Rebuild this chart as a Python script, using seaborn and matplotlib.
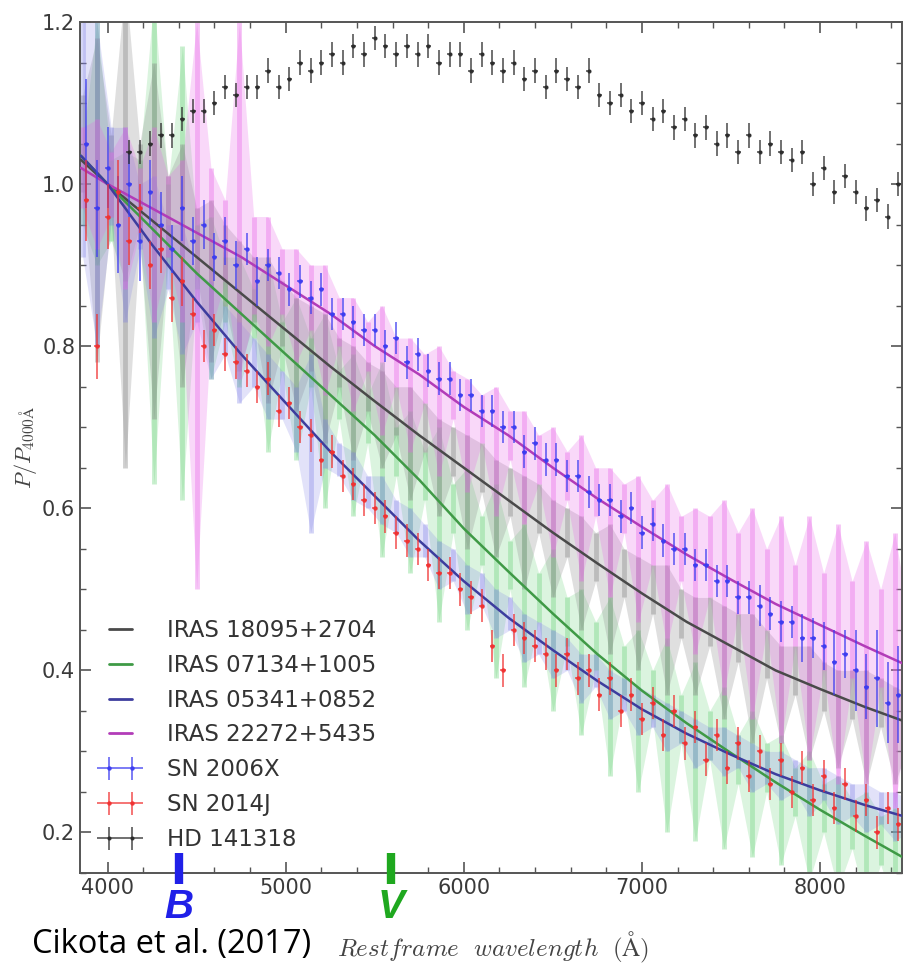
import matplotlib
matplotlib.use("Agg")
import matplotlib.pyplot as plt
import matplotlib.transforms as mtransforms
from matplotlib.lines import Line2D
from matplotlib.ticker import MultipleLocator
import numpy as np
import pandas as pd
import seaborn as sns

# ---------------- data ----------------
# Serkowski-type fit curves of the IRAS objects
fit_wave = [3850, 4000, 4250, 4500, 4750, 5000, 5250, 5500, 5750, 6000,
            6250, 6500, 6750, 7000, 7250, 7500, 7750, 8000, 8250, 8500]
fit_18095 = [1.03, 1.0, .955, .91, .865, .82, .775, .732, .69, .65,
             .61, .57, .532, .495, .46, .43, .40, .377, .355, .335]
fit_07134 = [1.035, 1.0, .945, .89, .84, .79, .74, .69, .635, .575,
             .522, .47, .42, .375, .335, .298, .262, .228, .196, .165]
fit_05341 = [1.035, 1.0, .925, .855, .79, .73, .67, .615, .56, .51,
             .465, .425, .387, .352, .322, .296, .272, .252, .234, .218]
fit_22272 = [1.02, 1.0, .97, .94, .91, .875, .84, .80, .765, .725,
             .69, .65, .612, .577, .543, .512, .482, .456, .43, .405]

# IRAS spectropolarimetry (value and 1-sigma error)
iras_wave = [3860, 3940, 4020, 4100, 4180, 4260, 4340, 4420, 4500, 4580,
             4660, 4740, 4820, 4900, 4980, 5060, 5140, 5220, 5300, 5380,
             5460, 5540, 5620, 5700, 5780, 5860, 5940, 6020, 6100, 6180,
             6260, 6340, 6420, 6500, 6580, 6660, 6740, 6820, 6900, 6980,
             7060, 7140, 7220, 7300, 7380, 7460, 7540, 7620, 7700, 7780,
             7860, 7940, 8020, 8100, 8180, 8260, 8340, 8420, 8500]
iras18095_pol = [1.05, 0.98, 1.01, 0.95, 0.99, 0.93, 0.96, 0.90, 0.93, 0.88,
                 0.90, 0.85, 0.87, 0.82, 0.84, 0.79, 0.81, 0.76, 0.78, 0.73,
                 0.75, 0.71, 0.72, 0.68, 0.70, 0.65, 0.67, 0.62, 0.65, 0.60,
                 0.62, 0.57, 0.60, 0.55, 0.57, 0.52, 0.54, 0.50, 0.52, 0.47,
                 0.50, 0.45, 0.47, 0.43, 0.46, 0.41, 0.44, 0.39, 0.42, 0.37,
                 0.40, 0.36, 0.38, 0.34, 0.37, 0.33, 0.36, 0.32, 0.34]
iras18095_err = [0.06, 0.20, 0.05, 0.30, 0.06, 0.22, 0.05, 0.15, 0.04, 0.10,
                 0.05, 0.08, 0.04, 0.09, 0.04, 0.07, 0.04, 0.08, 0.03, 0.07,
                 0.03, 0.06, 0.03, 0.07, 0.03, 0.06, 0.03, 0.07, 0.03, 0.06,
                 0.03, 0.07, 0.03, 0.06, 0.03, 0.07, 0.03, 0.08, 0.03, 0.07,
                 0.03, 0.08, 0.03, 0.06, 0.03, 0.07, 0.03, 0.08, 0.03, 0.06,
                 0.03, 0.07, 0.03, 0.06, 0.03, 0.07, 0.03, 0.06, 0.03]
iras07134_pol = [1.00, 1.05, 0.98, 0.96, 0.99, 0.93, 0.95, 0.89, 0.91, 0.86,
                 0.87, 0.83, 0.84, 0.79, 0.80, 0.76, 0.78, 0.72, 0.74, 0.69,
                 0.71, 0.66, 0.67, 0.62, 0.64, 0.58, 0.60, 0.55, 0.56, 0.51,
                 0.53, 0.48, 0.49, 0.45, 0.46, 0.41, 0.43, 0.38, 0.40, 0.35,
                 0.37, 0.32, 0.34, 0.30, 0.32, 0.28, 0.29, 0.26, 0.28, 0.24,
                 0.25, 0.22, 0.23, 0.20, 0.21, 0.18, 0.19, 0.17, 0.17]
iras07134_err = [0.05, 0.15, 0.05, 0.08, 0.04, 0.30, 0.05, 0.28, 0.04, 0.10,
                 0.04, 0.08, 0.03, 0.12, 0.03, 0.10, 0.03, 0.12, 0.03, 0.10,
                 0.03, 0.12, 0.03, 0.10, 0.03, 0.12, 0.03, 0.10, 0.03, 0.12,
                 0.03, 0.10, 0.03, 0.10, 0.03, 0.09, 0.03, 0.11, 0.03, 0.10,
                 0.03, 0.12, 0.03, 0.11, 0.03, 0.10, 0.03, 0.09, 0.03, 0.08,
                 0.03, 0.08, 0.03, 0.07, 0.03, 0.07, 0.03, 0.06, 0.03]
iras05341_pol = [1.06, 1.00, 1.01, 0.95, 0.96, 0.91, 0.91, 0.87, 0.86, 0.82,
                 0.82, 0.78, 0.78, 0.75, 0.74, 0.71, 0.68, 0.68, 0.66, 0.64,
                 0.62, 0.61, 0.59, 0.57, 0.56, 0.53, 0.53, 0.50, 0.50, 0.47,
                 0.47, 0.44, 0.44, 0.42, 0.42, 0.39, 0.40, 0.37, 0.37, 0.35,
                 0.35, 0.33, 0.33, 0.31, 0.31, 0.30, 0.30, 0.28, 0.28, 0.27,
                 0.27, 0.25, 0.26, 0.24, 0.24, 0.23, 0.23, 0.22, 0.22]
iras05341_err = [0.15, 0.20, 0.06, 0.12, 0.04, 0.10, 0.04, 0.08, 0.03, 0.06,
                 0.03, 0.05, 0.03, 0.04, 0.03, 0.04, 0.11, 0.03, 0.02, 0.03,
                 0.02, 0.03, 0.02, 0.03, 0.02, 0.03, 0.02, 0.03, 0.02, 0.03,
                 0.02, 0.03, 0.02, 0.03, 0.02, 0.03, 0.02, 0.03, 0.02, 0.03,
                 0.02, 0.03, 0.02, 0.03, 0.02, 0.03, 0.02, 0.03, 0.02, 0.03,
                 0.02, 0.03, 0.02, 0.03, 0.02, 0.03, 0.02, 0.03, 0.02]
iras22272_pol = [1.02, 1.00, 1.00, 0.97, 0.98, 0.95, 0.96, 0.93, 0.85, 0.92,
                 0.93, 0.98, 0.90, 0.88, 0.88, 0.85, 0.86, 0.82, 0.83, 0.79,
                 0.80, 0.77, 0.78, 0.74, 0.76, 0.72, 0.74, 0.69, 0.71, 0.67,
                 0.69, 0.65, 0.66, 0.62, 0.64, 0.60, 0.62, 0.57, 0.60, 0.55,
                 0.57, 0.53, 0.55, 0.51, 0.54, 0.49, 0.52, 0.47, 0.50, 0.45,
                 0.48, 0.44, 0.46, 0.42, 0.45, 0.41, 0.44, 0.40, 0.41]
iras22272_err = [0.05, 0.08, 0.04, 0.10, 0.04, 0.12, 0.05, 0.10, 0.35, 0.10,
                 0.05, 0.22, 0.06, 0.08, 0.04, 0.07, 0.04, 0.08, 0.03, 0.07,
                 0.03, 0.08, 0.03, 0.07, 0.03, 0.08, 0.03, 0.07, 0.03, 0.08,
                 0.03, 0.07, 0.03, 0.08, 0.03, 0.09, 0.03, 0.08, 0.03, 0.09,
                 0.04, 0.10, 0.04, 0.09, 0.05, 0.12, 0.05, 0.13, 0.05, 0.14,
                 0.05, 0.15, 0.06, 0.16, 0.06, 0.15, 0.06, 0.17, 0.05]

# Supernovae (binned)
sn_wave = [3880, 3940, 4000, 4060, 4120, 4180, 4240, 4300, 4360, 4420,
           4480, 4540, 4600, 4660, 4720, 4780, 4840, 4900, 4960, 5020,
           5080, 5140, 5200, 5260, 5320, 5380, 5440, 5500, 5560, 5620,
           5680, 5740, 5800, 5860, 5920, 5980, 6040, 6100, 6160, 6220,
           6280, 6340, 6400, 6460, 6520, 6580, 6640, 6700, 6760, 6820,
           6880, 6940, 7000, 7060, 7120, 7180, 7240, 7300, 7360, 7420,
           7480, 7540, 7600, 7660, 7720, 7780, 7840, 7900, 7960, 8020,
           8080, 8140, 8200, 8260, 8320, 8380, 8440, 8500]
sn_bin_halfwidth = 15
sn2006x_pol = [1.05, 0.97, 1.02, 0.95, 1.00, 0.93, 0.99, 0.95, 0.92, 0.97,
               0.93, 0.95, 0.91, 0.93, 0.90, 0.92, 0.88, 0.90, 0.89, 0.87,
               0.88, 0.86, 0.87, 0.84, 0.84, 0.83, 0.82, 0.82, 0.80, 0.81,
               0.78, 0.79, 0.77, 0.76, 0.76, 0.74, 0.74, 0.72, 0.72, 0.70,
               0.70, 0.67, 0.68, 0.66, 0.66, 0.64, 0.64, 0.62, 0.61, 0.61,
               0.59, 0.60, 0.57, 0.58, 0.56, 0.55, 0.55, 0.53, 0.53, 0.51,
               0.51, 0.49, 0.49, 0.48, 0.47, 0.46, 0.46, 0.44, 0.44, 0.43,
               0.41, 0.42, 0.40, 0.38, 0.39, 0.36, 0.37, 0.35]
sn2006x_err = [0.08, 0.06, 0.05, 0.06, 0.04, 0.05, 0.04, 0.04, 0.03, 0.04,
               0.03, 0.03, 0.03, 0.03, 0.03, 0.02, 0.03, 0.02, 0.02, 0.02,
               0.02, 0.02, 0.02, 0.02, 0.02, 0.02, 0.02, 0.02, 0.02, 0.02,
               0.02, 0.02, 0.02, 0.02, 0.02, 0.02, 0.02, 0.02, 0.02, 0.02,
               0.02, 0.02, 0.02, 0.02, 0.02, 0.02, 0.02, 0.02, 0.02, 0.02,
               0.02, 0.02, 0.02, 0.02, 0.02, 0.02, 0.02, 0.02, 0.02, 0.02,
               0.02, 0.02, 0.02, 0.025, 0.02, 0.025, 0.02, 0.03, 0.025, 0.03,
               0.04, 0.03, 0.05, 0.04, 0.06, 0.05, 0.06, 0.05]
sn2014j_pol = [0.98, 0.80, 0.96, 0.99, 0.93, 0.97, 0.90, 0.92, 0.86, 0.88,
               0.84, 0.80, 0.82, 0.79, 0.78, 0.77, 0.75, 0.76, 0.72, 0.73,
               0.70, 0.69, 0.66, 0.67, 0.64, 0.63, 0.61, 0.60, 0.59, 0.57,
               0.56, 0.55, 0.53, 0.52, 0.52, 0.50, 0.49, 0.48, 0.43, 0.40,
               0.45, 0.44, 0.43, 0.42, 0.40, 0.42, 0.39, 0.40, 0.37, 0.39,
               0.35, 0.37, 0.34, 0.36, 0.32, 0.35, 0.31, 0.33, 0.29, 0.32,
               0.28, 0.31, 0.27, 0.30, 0.26, 0.29, 0.25, 0.28, 0.24, 0.27,
               0.23, 0.26, 0.22, 0.24, 0.20, 0.23, 0.21, 0.22]
sn2014j_err = [0.05, 0.04, 0.04, 0.04, 0.03, 0.03, 0.03, 0.03, 0.03, 0.03,
               0.02, 0.02, 0.02, 0.02, 0.02, 0.02, 0.02, 0.02, 0.02, 0.02,
               0.02, 0.02, 0.02, 0.02, 0.02, 0.02, 0.02, 0.02, 0.02, 0.02,
               0.02, 0.02, 0.02, 0.02, 0.02, 0.02, 0.02, 0.02, 0.02, 0.02,
               0.02, 0.02, 0.02, 0.02, 0.02, 0.02, 0.02, 0.02, 0.02, 0.02,
               0.02, 0.02, 0.02, 0.02, 0.02, 0.02, 0.02, 0.02, 0.02, 0.02,
               0.02, 0.02, 0.02, 0.02, 0.02, 0.02, 0.02, 0.02, 0.02, 0.02,
               0.02, 0.02, 0.02, 0.02, 0.02, 0.02, 0.02, 0.02]

# Galactic star HD 141318
hd_wave = [4120, 4180, 4240, 4300, 4360, 4420, 4480, 4540, 4600, 4660,
           4720, 4780, 4840, 4900, 4960, 5020, 5080, 5140, 5200, 5260,
           5320, 5380, 5440, 5500, 5560, 5620, 5680, 5740, 5800, 5860,
           5920, 5980, 6040, 6100, 6160, 6220, 6280, 6340, 6400, 6460,
           6520, 6580, 6640, 6700, 6760, 6820, 6880, 6940, 7000, 7060,
           7120, 7180, 7240, 7300, 7360, 7420, 7480, 7540, 7600, 7660,
           7720, 7780, 7840, 7900, 7960, 8020, 8080, 8140, 8200, 8260,
           8320, 8380, 8440, 8500]
hd141318_pol = [1.04, 1.04, 1.05, 1.06, 1.06, 1.08, 1.09, 1.09, 1.10, 1.12,
                1.11, 1.12, 1.12, 1.14, 1.12, 1.13, 1.15, 1.14, 1.15, 1.16,
                1.15, 1.17, 1.16, 1.18, 1.17, 1.16, 1.17, 1.16, 1.17, 1.15,
                1.16, 1.16, 1.14, 1.16, 1.15, 1.14, 1.15, 1.13, 1.14, 1.12,
                1.14, 1.13, 1.12, 1.14, 1.11, 1.10, 1.11, 1.09, 1.10, 1.08,
                1.09, 1.07, 1.08, 1.06, 1.07, 1.05, 1.06, 1.04, 1.06, 1.04,
                1.05, 1.04, 1.03, 1.04, 1.00, 1.02, 0.99, 1.01, 0.99, 0.97,
                0.98, 0.96, 1.00, 0.97]
hd141318_err = 0.015

band_labels = ["B", "V"]
band_wave = [4400, 5590]

x_ticks = [4000, 5000, 6000, 7000, 8000]
y_ticks = [0.2, 0.4, 0.6, 0.8, 1.0, 1.2]

# ---------------- styling ----------------
sns.set_theme(style="ticks")
plt.rcParams['font.family'] = ['DejaVu Sans']
plt.rcParams['mathtext.fontset'] = 'cm'

W, H = 904, 967
L, R, T, B = 80, 902, 22, 873
fig = plt.figure(figsize=(W / 100, H / 100), dpi=100)
ax = fig.add_axes([L / W, 1 - B / H, (R - L) / W, (B - T) / H])

col = {
    "18095": ("#4a4a4a", "#8c8c8c"),
    "07134": ("#3f9a46", "#5fd070"),
    "05341": ("#3d3d9e", "#7f80e6"),
    "22272": ("#b23cb8", "#e866e8"),
}

# shaded spectra: light band plus vertical error spikes
for key, pol, err, a in [("07134", iras07134_pol, iras07134_err, 0.45),
                         ("18095", iras18095_pol, iras18095_err, 0.55),
                         ("05341", iras05341_pol, iras05341_err, 0.45),
                         ("22272", iras22272_pol, iras22272_err, 0.50)]:
    p = np.asarray(pol)
    e = np.asarray(err)
    ax.fill_between(iras_wave, p - e, p + e, color=col[key][1], alpha=a * 0.5,
                    lw=0, zorder=1)
    ax.vlines(iras_wave, p - e, p + e, color=col[key][1], alpha=a * 0.75, lw=3.5,
              zorder=1.5)

# fit lines via seaborn
fits = pd.DataFrame({"wave": fit_wave, "18095": fit_18095, "07134": fit_07134,
                     "05341": fit_05341, "22272": fit_22272})
for key in ["18095", "07134", "22272", "05341"]:
    sns.lineplot(data=fits, x="wave", y=key, ax=ax, color=col[key][0], lw=1.8, zorder=3)

# data points
eb06 = ax.errorbar(sn_wave, sn2006x_pol, yerr=sn2006x_err, xerr=sn_bin_halfwidth,
                   fmt='.', ms=4.5, color="#3b3bf0", elinewidth=1.1, capsize=0,
                   alpha=0.85, zorder=4)
eb14 = ax.errorbar(sn_wave, sn2014j_pol, yerr=sn2014j_err, xerr=sn_bin_halfwidth,
                   fmt='.', ms=4.5, color="#f03030", elinewidth=1.1, capsize=0,
                   alpha=0.85, zorder=4)
ebhd = ax.errorbar(hd_wave, hd141318_pol, yerr=hd141318_err, xerr=sn_bin_halfwidth,
                   fmt='.', ms=4, color="#2a2a2a", elinewidth=1.1, capsize=0,
                   alpha=0.85, zorder=4)

ax.set_xlim(3845, 8460)
ax.set_ylim(0.15, 1.2)
ax.set_xticks(x_ticks)
ax.set_xticklabels([str(v) for v in x_ticks])
ax.set_yticks(y_ticks)
ax.set_yticklabels([f"{v:.1f}" for v in y_ticks])
ax.xaxis.set_minor_locator(MultipleLocator(200))
ax.yaxis.set_minor_locator(MultipleLocator(0.05))
ax.tick_params(which='both', direction='in', top=True, right=True,
               color='#555555', labelcolor='#3a3a3a', labelsize=15)
ax.tick_params(which='major', length=8, width=1.2)
ax.tick_params(which='minor', length=4, width=1.0)
for s in ax.spines.values():
    s.set_color('#555555')
    s.set_linewidth(1.4)
ax.set_xlabel("")
ax.set_ylabel("")

# legend
handles = [Line2D([], [], color=col[k][0], lw=2) for k in ["18095", "07134", "05341", "22272"]]
handles += [eb06, eb14, ebhd]
labels = ["IRAS 18095+2704", "IRAS 07134+1005", "IRAS 05341+0852", "IRAS 22272+5435",
          "SN 2006X", "SN 2014J", "HD 141318"]
leg = ax.legend(handles, labels, loc='lower left', bbox_to_anchor=(0, 0),
                frameon=False, fontsize=16.5, numpoints=2, handlelength=1.6,
                handletextpad=1.25, labelspacing=0.52, borderaxespad=0.55)
for t in leg.get_texts():
    t.set_color('#333333')

# axis labels
fig.text(493 / W, 1 - 947 / H, r"$Restframe\ \ wavelength\ \ (\mathrm{\AA})$",
         ha='center', va='center', fontsize=18, color='#444444')
fig.text(26 / W, 1 - 447 / H, r"$P/P_{4000\mathrm{\AA}}$", rotation=90,
         ha='center', va='center', fontsize=16, color='#444444')

# B and V band markers
trans = mtransforms.blended_transform_factory(ax.transData, ax.transAxes)
band_cols = ["#2020e8", "#1fa81f"]
for lab, wv, c in zip(band_labels, band_wave, band_cols):
    ax.plot([wv, wv], [-0.013, 0.0235], transform=trans, color=c, lw=6,
            solid_capstyle='butt', clip_on=False, zorder=6)
    ax.text(wv, -0.040, lab, transform=trans, ha='center', va='center',
            fontsize=29, fontweight='bold', style='italic', color=c,
            family=['Liberation Sans', 'DejaVu Sans'])

fig.text(32 / W, 1 - 945 / H, "Cikota et al. (2017)", ha='left', va='center',
         fontsize=23.5, color='black', family=['Open Sans', 'DejaVu Sans'])

fig.savefig("out.png", dpi=100)
